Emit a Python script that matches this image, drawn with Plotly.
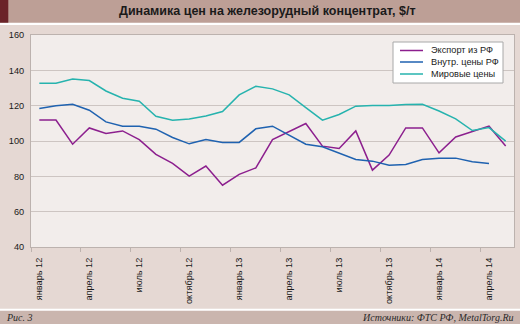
import plotly.graph_objects as go

# --- data -------------------------------------------------------------
months = [
    "январь 12", "февраль 12", "март 12", "апрель 12", "май 12", "июнь 12",
    "июль 12", "август 12", "сентябрь 12", "октябрь 12", "ноябрь 12", "декабрь 12",
    "январь 13", "февраль 13", "март 13", "апрель 13", "май 13", "июнь 13",
    "июль 13", "август 13", "сентябрь 13", "октябрь 13", "ноябрь 13", "декабрь 13",
    "январь 14", "февраль 14", "март 14", "апрель 14", "май 14",
]

export_rf = [111.9, 111.9, 98.2, 107.4, 104.2, 105.7, 100.8, 92.4, 87.3, 80.1,
             85.8, 75.0, 81.1, 84.8, 100.8, 105.2, 109.9, 97.1, 95.8, 105.7,
             83.5, 92.0, 107.4, 107.4, 93.3, 102.3, 105.2, 108.4, 97.2]
domestic_rf = [118.4, 119.9, 120.8, 117.4, 110.8, 108.4, 108.4, 106.7, 102.0, 98.4,
               100.8, 99.2, 99.2, 106.9, 108.4, 103.5, 98.2, 96.7, 93.1, 89.5,
               88.6, 86.3, 86.7, 89.5, 90.3, 90.3, 88.2, 87.3]
world = [132.7, 132.7, 135.1, 134.2, 128.3, 124.2, 122.5, 114.0, 111.8, 112.5,
         114.2, 116.7, 126.1, 131.0, 129.5, 126.1, 118.9, 111.8, 115.0, 119.7,
         120.1, 120.1, 120.6, 120.8, 117.0, 112.5, 105.9, 107.6, 99.9]

series_names = ["Экспорт из РФ", "Внутр. цены РФ", "Мировые цены"]
series_colors = ["#8c1f8e", "#1f62b0", "#26b3ae"]
y_ticks = [40, 60, 80, 100, 120, 140, 160]

title_text = "Динамика цен на железорудный концентрат, $/т"
fig_label = "Рис. 3"
source_text = "Источники: ФТС РФ, MetalTorg.Ru"

# --- geometry ---------------------------------------------------------
W, H = 520, 324
ML, MR, MT, MB = 31, 6, 35, 77
PW, PH = W - ML - MR, H - MT - MB


def fx(px):
    return (px - ML) / PW


def fy(py):
    return (H - MB - py) / PH


FONT = "Liberation Sans, Arial, sans-serif"
SERIF = "Liberation Serif, Times New Roman, serif"

fig = go.Figure()
x_idx = list(range(len(months)))
for vals, name, col in zip([export_rf, domestic_rf, world], series_names, series_colors):
    fig.add_trace(go.Scatter(
        x=x_idx[:len(vals)], y=vals, mode="lines", name=name,
        line=dict(color=col, width=1.5), showlegend=False,
    ))

shapes = [
    # header band with dark accent
    dict(type="rect", xref="paper", yref="paper", x0=fx(0), x1=fx(W), y0=fy(22.7), y1=fy(0),
         fillcolor="#bd9f96", line_width=0, layer="below"),
    dict(type="rect", xref="paper", yref="paper", x0=fx(0), x1=fx(8.3), y0=fy(22.7), y1=fy(0),
         fillcolor="#6b2329", line_width=0, layer="below"),
    # main panel
    dict(type="rect", xref="paper", yref="paper", x0=fx(0), x1=fx(W), y0=fy(308.7), y1=fy(25),
         fillcolor="#e5d8d3", line_width=0, layer="below"),
    # plotting area
    dict(type="rect", xref="paper", yref="paper", x0=0, x1=1, y0=0, y1=1,
         fillcolor="#f2edeb", line_width=0, layer="below"),
    # footer band
    dict(type="rect", xref="paper", yref="paper", x0=fx(0), x1=fx(W), y0=fy(H), y1=fy(310.7),
         fillcolor="#cab5ae", line_width=0, layer="below"),
    # legend box
    dict(type="rect", xref="paper", yref="paper", x0=fx(393), x1=fx(503), y0=fy(83), y1=fy(42),
         fillcolor="white", line=dict(color="#a8a8a8", width=1), layer="above"),
]

annotations = [
    dict(text=f"<b>{title_text}</b>", xref="paper", yref="paper", x=fx(267), y=fy(11.5),
         xanchor="center", yanchor="middle", showarrow=False,
         font=dict(family=FONT, size=12.5, color="#1a1a1a")),
    dict(text=f"<i>{fig_label}</i>", xref="paper", yref="paper", x=fx(4), y=fy(317.5),
         xanchor="left", yanchor="middle", showarrow=False,
         font=dict(family=SERIF, size=10, color="#2a2a2a")),
    dict(text=f"<i>{source_text}</i>", xref="paper", yref="paper", x=fx(515), y=fy(317.5),
         xanchor="right", yanchor="middle", showarrow=False,
         font=dict(family=SERIF, size=10, color="#2a2a2a")),
]

legend_rows = [50.5, 62, 74]
for name, col, ry in zip(series_names, series_colors, legend_rows):
    shapes.append(dict(type="line", xref="paper", yref="paper", x0=fx(400), x1=fx(423),
                       y0=fy(ry), y1=fy(ry), line=dict(color=col, width=1.5), layer="above"))
    annotations.append(dict(text=name, xref="paper", yref="paper", x=fx(429), y=fy(ry),
                            xanchor="left", yanchor="middle", showarrow=False,
                            font=dict(family=FONT, size=9.2, color="#1a1a1a")))

tick_pos = x_idx[::3]
fig.update_layout(
    width=W, height=H,
    margin=dict(l=ML, r=MR, t=MT, b=MB, pad=0),
    paper_bgcolor="white", plot_bgcolor="rgba(0,0,0,0)",
    shapes=shapes, annotations=annotations,
    font=dict(family=FONT, size=9.2, color="#1a1a1a"),
    xaxis=dict(
        range=[-0.5, len(months) - 0.5], tickmode="array",
        tickvals=tick_pos, ticktext=[months[i] for i in tick_pos],
        tickangle=-90, ticks="outside", ticklen=6, tickcolor="rgba(0,0,0,0)",
        showgrid=False, zeroline=False,
        showline=True, linecolor="#bcb2ae", linewidth=1, mirror=True,
        minor=dict(tick0=-0.5, dtick=3, ticks="outside", ticklen=4,
                   tickcolor="#bcb2ae", tickwidth=1, showgrid=False),
        tickfont=dict(family=FONT, size=9.2, color="#1a1a1a"),
    ),
    yaxis=dict(
        range=[40, 160], tickmode="array", tickvals=y_ticks,
        showgrid=True, gridcolor="#cdc5c2", gridwidth=1, zeroline=False,
        showline=True, linecolor="#bcb2ae", linewidth=1, mirror=True,
        ticks="", ticklabelstandoff=4,
        tickfont=dict(family=FONT, size=9.2, color="#1a1a1a"),
    ),
)

fig.write_html("out.html")
